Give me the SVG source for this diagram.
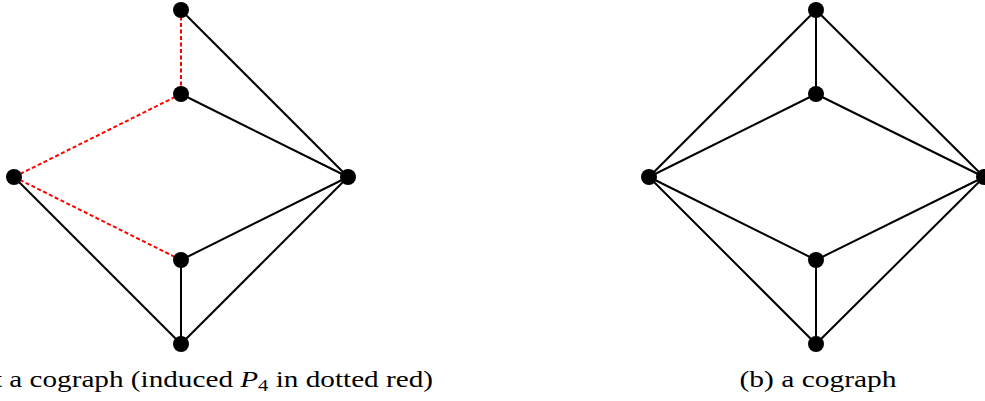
<svg xmlns="http://www.w3.org/2000/svg" width="985" height="401" viewBox="0 0 985 401">
<style>
.e{stroke:#000;stroke-width:2;fill:none}
.r{stroke:#ff0000;stroke-width:2;fill:none;stroke-dasharray:4 2.5}
.n{fill:#000}
.t{font-family:"Liberation Serif","DejaVu Serif",serif;font-size:24px;fill:#000}
</style>
<rect width="985" height="401" fill="#fff"/>
<g id="connectors">
<line class="e" x1="181" y1="10" x2="348" y2="177"/>
<line class="e" x1="181" y1="94" x2="348" y2="177"/>
<line class="e" x1="181" y1="260" x2="348" y2="177"/>
<line class="e" x1="181" y1="344" x2="348" y2="177"/>
<line class="e" x1="181" y1="260" x2="181" y2="344"/>
<line class="e" x1="14" y1="177" x2="181" y2="344"/>
<line class="r" x1="181" y1="10" x2="181" y2="94"/>
<line class="r" x1="181" y1="94" x2="14" y2="177"/>
<line class="r" x1="14" y1="177" x2="181" y2="260"/>
<line class="e" x1="816" y1="10" x2="816" y2="94"/>
<line class="e" x1="816" y1="10" x2="649" y2="177"/>
<line class="e" x1="816" y1="10" x2="984" y2="177"/>
<line class="e" x1="816" y1="94" x2="649" y2="177"/>
<line class="e" x1="816" y1="94" x2="984" y2="177"/>
<line class="e" x1="649" y1="177" x2="816" y2="260"/>
<line class="e" x1="649" y1="177" x2="816" y2="344"/>
<line class="e" x1="984" y1="177" x2="816" y2="260"/>
<line class="e" x1="984" y1="177" x2="816" y2="344"/>
<line class="e" x1="816" y1="260" x2="816" y2="344"/>
</g>
<g id="a-top"><circle class="n" cx="181" cy="10" r="8"/></g>
<g id="a-upper"><circle class="n" cx="181" cy="94" r="8"/></g>
<g id="a-left"><circle class="n" cx="14" cy="177" r="8"/></g>
<g id="a-right"><circle class="n" cx="348" cy="177" r="8"/></g>
<g id="a-lower"><circle class="n" cx="181" cy="260" r="8"/></g>
<g id="a-bottom"><circle class="n" cx="181" cy="344" r="8"/></g>
<g id="b-top"><circle class="n" cx="816" cy="10" r="8"/></g>
<g id="b-upper"><circle class="n" cx="816" cy="94" r="8"/></g>
<g id="b-left"><circle class="n" cx="649" cy="177" r="8"/></g>
<g id="b-right"><circle class="n" cx="984" cy="177" r="8"/></g>
<g id="b-lower"><circle class="n" cx="816" cy="260" r="8"/></g>
<g id="b-bottom"><circle class="n" cx="816" cy="344" r="8"/></g>
<g id="captions">
<text class="t" x="433" y="387" text-anchor="end" textLength="508" lengthAdjust="spacingAndGlyphs">(a) not a cograph (induced <tspan font-style="italic">P</tspan><tspan font-size="17" dy="4">4</tspan><tspan dy="-4"> in dotted red)</tspan></text>
<text class="t" x="818" y="387" text-anchor="middle" textLength="157" lengthAdjust="spacingAndGlyphs">(b) a cograph</text>
</g>
</svg>
